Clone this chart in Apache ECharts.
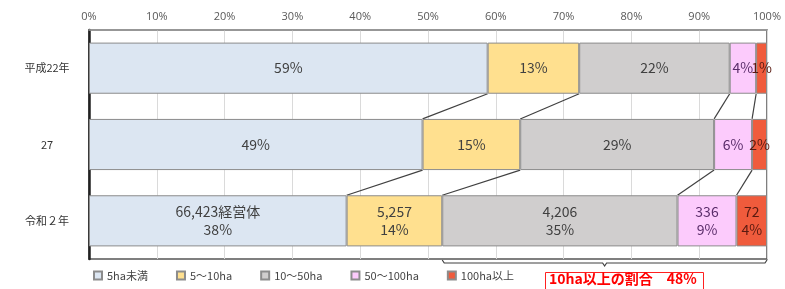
<!DOCTYPE html>
<html>
<head>
<meta charset="utf-8">
<script src="https://cdn.jsdelivr.net/npm/echarts@6/dist/echarts.min.js"></script>
<style>
  html, body { margin: 0; padding: 0; background: #fff; }
  #chart { width: 785px; height: 289px; }
</style>
</head>
<body>
<div id="chart"></div>
<script>
// 年次
const years = ["平成22年", "27", "令和２年"];
// 規模区分
const classes = ["5ha未満", "5～10ha", "10～50ha", "50～100ha", "100ha以上"];

// 構成比（棒の長さ, %）
const shareUnder5 = [58.8, 49.2, 38.0];
const share5to10 = [13.5, 14.4, 14.1];
const share10to50 = [22.2, 28.6, 34.7];
const share50to100 = [3.9, 5.6, 8.7];
const share100up = [1.6, 2.2, 4.5];

// 表示ラベル（%）
const pctUnder5 = [59, 49, 38];
const pct5to10 = [13, 15, 14];
const pct10to50 = [22, 29, 35];
const pct50to100 = [4, 6, 9];
const pct100up = [1, 2, 4];

// 令和２年の経営体数
const countsR2 = [66423, 5257, 4206, 336, 72];

// x軸目盛
const xTicks = [0, 10, 20, 30, 40, 50, 60, 70, 80, 90, 100];

const shares = [shareUnder5, share5to10, share10to50, share50to100, share100up];
const pcts = [pctUnder5, pct5to10, pct10to50, pct50to100, pct100up];
const colors = ["#dce6f2", "#ffe08f", "#d0cece", "#fccbfc", "#f05b3c"];
const labelColors = ["#404040", "#404040", "#404040", "#5a2d6a", "#5a1a10"];

const barRatio = 0.67;

// 累積値
const cum = years.map((_, i) => {
  let s = 0;
  const out = [0];
  shares.forEach(arr => { s += arr[i]; out.push(s); });
  return out;
});

// 棒の間をつなぐ線
const connectors = [];
for (let g = 0; g < years.length - 1; g++) {
  for (let k = 1; k < classes.length; k++) {
    connectors.push([cum[g][k], cum[g + 1][k], g]);
  }
}

const last = years.length - 1;
const over10 = pct10to50[last] + pct50to100[last] + pct100up[last];

const chart = echarts.init(document.getElementById("chart"));

const barSeries = classes.map((name, si) => ({
  name: name,
  type: "bar",
  stack: "total",
  barCategoryGap: "33%",
  data: shares[si],
  itemStyle: { color: colors[si], borderColor: "#8c8c8c", borderWidth: 1 },
  label: {
    show: true,
    position: "inside",
    color: labelColors[si],
    fontSize: 14,
    lineHeight: 18,
    fontFamily: "Noto Sans CJK JP",
    formatter: p => {
      const pct = pcts[si][p.dataIndex] + "%";
      if (p.dataIndex === last) {
        const c = countsR2[si].toLocaleString("en-US") + (si === 0 ? "経営体" : "");
        return c + "\n" + pct;
      }
      return pct;
    }
  }
}));

chart.setOption({
  animation: false,
  textStyle: { fontFamily: "Noto Sans CJK JP" },
  grid: {
    left: 89, right: 18, top: 30, bottom: 30,
    show: true, borderColor: "#555", borderWidth: 1.5
  },
  legend: {
    data: classes,
    left: 88,
    bottom: 3,
    icon: "rect",
    itemWidth: 8,
    itemHeight: 8,
    itemGap: 28,
    textStyle: { fontSize: 11, color: "#444" }
  },
  xAxis: {
    type: "value",
    position: "top",
    min: 0,
    max: 100,
    interval: 10,
    axisLine: { show: true, lineStyle: { color: "#a0a0a0", width: 1.5 } },
    axisTick: { show: false },
    splitLine: { show: true, lineStyle: { color: "#dadada" } },
    axisLabel: {
      color: "#595959",
      fontSize: 11,
      fontFamily: "Open Sans",
      margin: 8,
      formatter: v => (xTicks.includes(v) ? v + "%" : "")
    }
  },
  yAxis: {
    type: "category",
    inverse: true,
    data: years,
    axisLine: { show: true, lineStyle: { color: "#222", width: 2.5 } },
    axisTick: { show: false },
    axisLabel: { color: "#333", fontSize: 11, align: "center", margin: 42 }
  },
  series: barSeries.concat([
    {
      type: "custom",
      silent: true,
      data: connectors,
      encode: { x: [0, 1], y: 2 },
      renderItem: (params, api) => {
        const a = api.coord([api.value(0), api.value(2)]);
        const b = api.coord([api.value(1), api.value(2) + 1]);
        const half = api.size([0, 1])[1] * barRatio / 2;
        return {
          type: "line",
          shape: { x1: a[0], y1: a[1] + half, x2: b[0], y2: b[1] - half },
          style: { stroke: "#404040", lineWidth: 1.2 }
        };
      }
    },
    {
      type: "custom",
      silent: true,
      data: [[cum[last][2], cum[last][5], last]],
      encode: { x: [0, 1], y: 2 },
      renderItem: (params, api) => {
        const a = api.coord([api.value(0), api.value(2)]);
        const b = api.coord([api.value(1), api.value(2)]);
        const band = api.size([0, 1])[1];
        const y0 = a[1] + band / 2 + 4;
        const mid = (a[0] + b[0]) / 2;
        return {
          type: "polyline",
          shape: {
            points: [
              [a[0], y0 - 3], [a[0] + 2, y0], [mid - 2, y0], [mid, y0 + 3],
              [mid + 2, y0], [b[0] - 2, y0], [b[0], y0 - 3]
            ]
          },
          style: { stroke: "#404040", lineWidth: 1.2, fill: null }
        };
      }
    }
  ]),
  graphic: [
    {
      type: "rect",
      left: 545,
      top: 272,
      shape: { width: 158, height: 19 },
      style: { fill: "#fff", stroke: "#ff2020", lineWidth: 1 }
    },
    {
      type: "text",
      left: 549,
      top: 272,
      style: {
        text: "10ha以上の割合　" + over10 + "%",
        fill: "#ff0000",
        font: "bold 14px 'Noto Sans CJK JP'"
      }
    }
  ]
});
</script>
</body>
</html>
